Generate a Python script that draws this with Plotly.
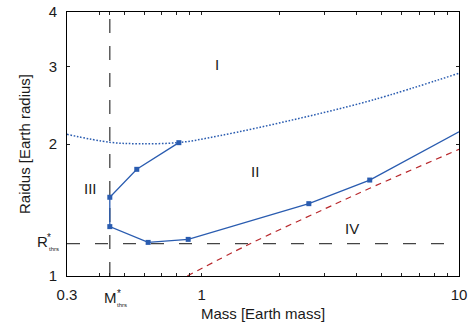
import math
import plotly.graph_objects as go

# ---------------- data ----------------
M_THRS = 0.44   # threshold mass [Earth mass]
R_THRS = 1.185  # threshold radius [Earth radius]

# solid blue boundary (with square markers except last point)
boundary_mass = [0.816, 0.560, 0.44, 0.44, 0.620, 0.887, 2.61, 4.50, 10.0]
boundary_radius = [2.014, 1.751, 1.512, 1.296, 1.193, 1.212, 1.462, 1.655, 2.133]

# dotted blue curve
dotted_mass = [0.3, 0.44, 0.574, 0.821, 1.174, 2.297, 4.62, 10.0]
dotted_radius = [2.104, 2.018, 2.003, 2.016, 2.089, 2.275, 2.52, 2.90]

# dashed red curve
red_mass = [0.88, 1.509, 3.005, 4.50, 10.0]
red_radius = [1.0, 1.177, 1.422, 1.585, 1.945]

# region labels
region_text = ["I", "II", "III", "IV"]
region_mass = [1.15, 1.616, 0.370, 3.83]
region_radius = [3.03, 1.727, 1.583, 1.28]

x_major = [0.3, 1, 10]
x_minor = [0.4, 0.5, 0.6, 0.7, 0.8, 0.9, 2, 3, 4, 5, 6, 7, 8, 9]
y_ticks = [1, 2, 3, 4]

X_RANGE = [0.3, 10]
Y_RANGE = [1, 4]

BLUE = "#2a5cb0"
RED = "#b8282c"
GRAY = "#444444"
TXT = "#1a1a1a"
FONT = "Liberation Sans, Arial, sans-serif"

# layout geometry (pixels)
W, H = 473, 331
ML, MR, MT, MB = 67, 14, 12, 55
PW, PH = W - ML - MR, H - MT - MB


def paper(px, py):
    return (px - ML) / PW, (H - MB - py) / PH


fig = go.Figure()

# threshold lines
fig.add_trace(go.Scatter(x=[M_THRS, M_THRS], y=Y_RANGE, mode="lines",
                         line=dict(color=GRAY, width=1.3, dash="14px,13px"),
                         hoverinfo="skip", showlegend=False))
fig.add_trace(go.Scatter(x=X_RANGE, y=[R_THRS, R_THRS], mode="lines",
                         line=dict(color=GRAY, width=1.3, dash="13px,15px"),
                         hoverinfo="skip", showlegend=False))

# dotted blue
fig.add_trace(go.Scatter(x=dotted_mass, y=dotted_radius, mode="lines",
                         line=dict(color=BLUE, width=1.5, dash="1.6px,1.7px", shape="spline"),
                         showlegend=False))
# red dashed
fig.add_trace(go.Scatter(x=red_mass, y=red_radius, mode="lines",
                         line=dict(color=RED, width=1.2, dash="6px,5px", shape="spline"),
                         showlegend=False))
# blue boundary
fig.add_trace(go.Scatter(x=boundary_mass, y=boundary_radius, mode="lines",
                         line=dict(color=BLUE, width=1.3), showlegend=False))
fig.add_trace(go.Scatter(x=boundary_mass[:-1], y=boundary_radius[:-1], mode="markers",
                         marker=dict(color=BLUE, size=5, symbol="square"),
                         showlegend=False))

# region labels
for t, xm, yr in zip(region_text, region_mass, region_radius):
    fig.add_annotation(x=math.log10(xm), y=math.log10(yr), text=t, showarrow=False,
                       font=dict(family=FONT, size=15, color=TXT),
                       xanchor="center", yanchor="middle")

# outward tick under M*
fig.add_shape(type="line", xref="x", yref="paper", x0=math.log10(M_THRS), x1=math.log10(M_THRS),
              y0=0, y1=-11 / PH, line=dict(color="#222", width=1.2))

# custom threshold tick labels
ann = []
mx, my = paper(103, 297.5)
ann.append(dict(x=mx, y=my, text="M", size=15, xa="left"))
sx, sy = paper(115.5, 293.5)
ann.append(dict(x=sx, y=sy, text="*", size=10, xa="left"))
tx, ty = paper(116, 304.5)
ann.append(dict(x=tx, y=ty, text="thrs", size=6, xa="left"))
rx, ry = paper(35.5, 241.7)
ann.append(dict(x=rx, y=ry, text="R", size=15, xa="left"))
sx, sy = paper(45.5, 237.5)
ann.append(dict(x=sx, y=sy, text="*", size=10, xa="left"))
tx, ty = paper(47.5, 249)
ann.append(dict(x=tx, y=ty, text="thrs", size=6, xa="left"))
for a in ann:
    fig.add_annotation(xref="paper", yref="paper", x=a["x"], y=a["y"], text=a["text"],
                       showarrow=False, xanchor=a["xa"], yanchor="middle",
                       borderpad=0, font=dict(family=FONT, size=a["size"], color=TXT))

xticks = x_major + x_minor + [M_THRS]
xtext = ["0.3", "1", "10"] + [""] * len(x_minor) + [""]

fig.update_xaxes(type="log", range=[math.log10(X_RANGE[0]), math.log10(X_RANGE[1])],
                 tickvals=xticks, ticktext=xtext, ticks="inside", ticklen=3,
                 tickcolor="#222", showgrid=False, zeroline=False,
                 showline=True, linecolor="black", linewidth=1, mirror="ticks",
                 ticklabelstandoff=5, automargin=False,
                 tickfont=dict(family=FONT, size=15, color=TXT),
                 title=dict(text="Mass [Earth mass]", standoff=6,
                            font=dict(family=FONT, size=15, color=TXT)))
fig.update_yaxes(type="log", range=[math.log10(Y_RANGE[0]), math.log10(Y_RANGE[1])],
                 tickvals=y_ticks, ticktext=[str(v) for v in y_ticks],
                 ticks="inside", ticklen=3, tickcolor="#222",
                 showgrid=False, zeroline=False,
                 showline=True, linecolor="black", linewidth=1, mirror="ticks",
                 ticklabelstandoff=6, automargin=False,
                 tickfont=dict(family=FONT, size=15, color=TXT),
                 title=dict(text="Raidus [Earth radius]", standoff=14,
                            font=dict(family=FONT, size=15, color=TXT)))

fig.update_layout(width=W, height=H, margin=dict(l=ML, r=MR, t=MT, b=MB),
                  paper_bgcolor="white", plot_bgcolor="white", showlegend=False)

fig.write_html("out.html")
